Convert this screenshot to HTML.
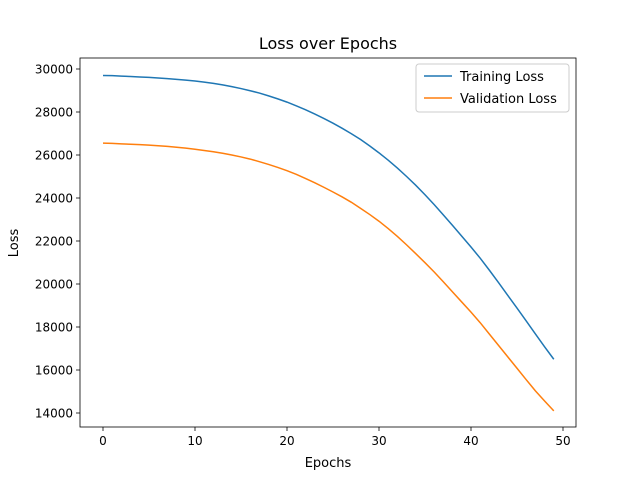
<!DOCTYPE html>
<html><head><meta charset="utf-8"><style>
body{margin:0;background:#fff;}
svg{display:block;font-family:"DejaVu Sans","Liberation Sans",sans-serif;}
</style></head><body>
<svg id="chart" width="640" height="480">
<rect x="0" y="0" width="640" height="480" fill="#fff"/>
<text x="328" y="49" font-size="16" text-anchor="middle">Loss over Epochs</text>
<g id="plot"></g>
<text x="328" y="467" font-size="13" text-anchor="middle">Epochs</text>
<text x="18" y="243" font-size="13" text-anchor="middle" transform="rotate(-90 18 243)">Loss</text>
<g>
<rect x="416" y="64" width="153" height="48" fill="#fff" fill-opacity="0.8" stroke="#ccc" rx="3"/>
<line x1="424" y1="76" x2="452" y2="76" stroke="#1f77b4" stroke-width="1.5"/>
<text x="460" y="81" font-size="13">Training Loss</text>
<line x1="424" y1="98" x2="452" y2="98" stroke="#ff7f0e" stroke-width="1.5"/>
<text x="460" y="103" font-size="13">Validation Loss</text>
</g>
</svg>
<script>
const trainLoss=[29700,29690,29670,29650,29630,29610,29580,29550,29520,29480,29440,29390,29330,29260,29180,29090,28990,28880,28750,28610,28460,28290,28110,27910,27700,27480,27240,26990,26720,26420,26100,25760,25390,25000,24590,24150,23690,23210,22720,22220,21720,21200,20640,20060,19470,18880,18280,17680,17080,16500];
const valLoss=[26550,26540,26520,26500,26480,26460,26430,26400,26360,26320,26270,26210,26150,26080,26000,25910,25810,25690,25560,25420,25270,25100,24910,24710,24500,24280,24050,23800,23520,23230,22920,22580,22210,21820,21410,20990,20560,20100,19630,19160,18690,18200,17670,17140,16610,16080,15550,15030,14560,14100];
const xTicks=[0,10,20,30,40,50];
const yTicks=[14000,16000,18000,20000,22000,24000,26000,28000,30000];
const L=80,R=576,T=58,B=427;
const xs=v=>103+(v-0)*(563-103)/50;
const ys=v=>413-(v-14000)*(413-69)/16000;
const NS='http://www.w3.org/2000/svg';
const g=document.getElementById('plot');
function mk(tag,attrs){const e=document.createElementNS(NS,tag);for(const k in attrs)e.setAttribute(k,attrs[k]);g.appendChild(e);return e;}
xTicks.forEach(t=>{
 const l=mk('line',{x1:xs(t),x2:xs(t),y1:B,y2:B+4,stroke:'#000','stroke-width':0.8});
 
 
 const tx=mk('text',{x:xs(t),y:B+18,'font-size':12,'text-anchor':'middle'});tx.textContent=t;
 
 
});
yTicks.forEach(t=>{
 const l=mk('line',{x1:L-4,x2:L,y1:ys(t),y2:ys(t),stroke:'#000','stroke-width':0.8});
 
 
 const tx=mk('text',{x:L-7,y:ys(t)+4.5,'font-size':12,'text-anchor':'end'});tx.textContent=t;
 
 
});
function series(arr,color,name){
 const p=mk('polyline',{points:arr.map((v,i)=>xs(i)+','+ys(v)).join(' '),fill:'none',stroke:color,'stroke-width':1.5});
 
 
}
series(trainLoss,'#1f77b4','training-loss-line');
series(valLoss,'#ff7f0e','validation-loss-line');
const fr=mk('rect',{x:L,y:T,width:R-L,height:B-T,fill:'none',stroke:'#000','stroke-width':0.8});


</script>
</body></html>
